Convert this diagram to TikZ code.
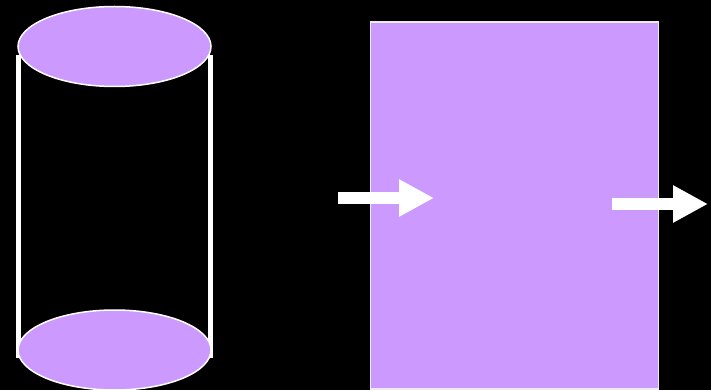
\documentclass[tikz,border=0pt]{standalone}
\usetikzlibrary{arrows.meta}
\definecolor{lilac}{HTML}{CC99FF}
\tikzset{
  disc/.style={fill=lilac, draw=white, line width=1.5pt},
  wall/.style={white, line width=5pt},
  blockarrow/.style={white, line width=12pt, -{Triangle[length=35pt,width=35pt]}}
}
\begin{document}
\begin{tikzpicture}[x=1pt,y=-1pt]
\fill[black] (0,0) rectangle (711,390);
\useasboundingbox (0,0) rectangle (711,390);
\def\RX{96.5};\def\RY{40};
% cylinder
\coordinate (top) at (114.5,46.5);
\coordinate (bot) at (114.5,350);
\draw[wall] (18,55)--(18,358);
\draw[wall] (210.5,55)--(210.5,358);
\draw[disc] (top) ellipse [x radius=\RX, y radius=\RY];
\draw[disc] (bot) ellipse [x radius=\RX, y radius=\RY];
% box
\node[fill=lilac, draw=white!85!gray, line width=1.5pt, minimum width=288pt, minimum height=367pt, inner sep=0pt] (box) at (514.5,205.5) {};
% arrows
\coordinate (in1) at (338,198); \coordinate (in2) at (434,198);
\coordinate (out1) at (612,204); \coordinate (out2) at (708,204);
\draw[blockarrow] (in1)--(in2);
\draw[blockarrow] (out1)--(out2);
\end{tikzpicture}
\end{document}
